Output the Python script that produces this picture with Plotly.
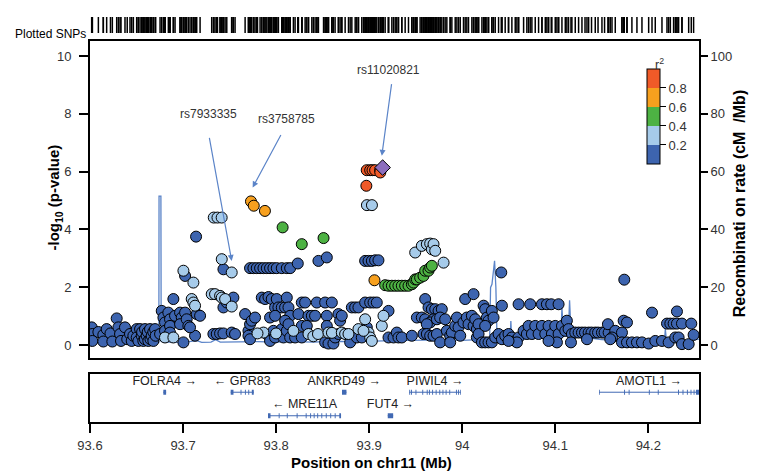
import plotly.graph_objects as go

# ---- SNP association data (position in Mb, -log10 p) grouped by LD class ----
blue_pos = [93.6018, 93.6025, 93.6025, 93.6090, 93.6143, 93.6143, 93.6179, 93.6220, 93.6240, 93.6287,
            93.6305, 93.6323, 93.6333, 93.6376, 93.6400, 93.6430, 93.6448, 93.6466, 93.6502, 93.6502,
            93.6520, 93.6538, 93.6556, 93.6560, 93.6573, 93.6590, 93.6591, 93.6609, 93.6620, 93.6627,
            93.6645, 93.6650, 93.6663, 93.6680, 93.6681, 93.6699, 93.6706,
            93.6753, 93.6771, 93.6789, 93.6806, 93.6806, 93.6842, 93.6860, 93.6860, 93.6860, 93.6896,
            93.6914, 93.6968, 93.6986, 93.6968, 93.7004, 93.7022, 93.7039, 93.7057, 93.7022, 93.7147,
            93.7183, 93.7129, 93.7075, 93.7140,
            93.7434, 93.7470, 93.7541, 93.7434, 93.7326, 93.7362, 93.7398, 93.7434, 93.7523, 93.7559, 93.7667,
            93.7720, 93.7756, 93.7792, 93.7828, 93.7864, 93.7900, 93.7935, 93.7971, 93.8007, 93.8061,
            93.8115, 93.8151, 93.8233, 93.7846, 93.7882, 93.7918, 93.7953, 93.7989, 93.8007, 93.8025,
            93.8061, 93.8097, 93.8115, 93.8133, 93.8151, 93.7935, 93.7989, 93.7703, 93.7720, 93.7738,
            93.7703, 93.7720, 93.7774, 93.7918, 93.7935, 93.7971, 93.7989, 93.8061, 93.8079, 93.8097,
            93.8115, 93.8133, 93.8151, 93.8204, 93.8240, 93.8276, 93.8276,
            93.8276, 93.8312, 93.8348, 93.8384, 93.8419, 93.8330, 93.8437, 93.8455, 93.8545, 93.8527,
            93.8599, 93.8545, 93.8545, 93.8599, 93.8527, 93.8563, 93.8616, 93.8634, 93.8670, 93.8688,
            93.8706, 93.8670, 93.8796, 93.8814, 93.8850, 93.8885,
            93.8957, 93.8993, 93.9029, 93.9064, 93.9100, 93.8957, 93.9011, 93.9047, 93.9082, 93.8975,
            93.8867, 93.8921, 93.9208, 93.9208, 93.9262, 93.9297, 93.9315, 93.9351, 93.9459, 93.9513,
            93.9602, 93.9566, 93.9602, 93.9638, 93.9674, 93.9710, 93.9746, 93.9781, 93.9692, 93.9656,
            93.9620, 93.9728, 93.9763, 93.9817, 93.9584, 93.9620, 93.9656, 93.9692, 93.9728, 93.9763,
            93.9835, 93.9871, 93.9889, 93.9871, 93.9925, 93.9943, 93.9961, 93.9979, 94.0014, 94.0032,
            94.0050, 94.0068, 94.0104, 94.0122, 94.0122, 94.0140, 94.0158, 94.0176, 94.0158, 94.0176,
            94.0230, 94.0247, 94.0265, 94.0283, 94.0247, 94.0319, 94.0337, 94.0212, 94.0247, 94.0283,
            94.0319, 94.0355, 94.0391, 94.0427, 94.0462, 94.0498, 94.0534, 94.0570, 94.0606, 94.0660,
            94.0695, 94.0713, 94.0749, 94.0785, 94.0821, 94.0857, 94.0893, 94.0928, 94.0964, 94.1000,
            94.1036, 94.1072, 94.1108, 94.1125, 94.1143, 94.1179, 94.1215, 94.1251, 94.1287, 94.1320,
            94.1359, 94.1390, 94.1430, 94.1460, 94.1502, 94.1530, 94.1574, 94.1566, 94.1645, 94.1610,
            94.1717, 94.1735, 94.1771, 94.1717, 94.1771, 94.1824, 94.1878, 94.1932, 94.2004, 94.2075,
            94.2147, 94.2219, 94.2290, 94.2326, 94.2362, 94.2434, 94.2487, 94.2201, 94.2237, 94.2272,
            94.2308, 94.2362, 94.2462, 94.2308, 94.2040, 94.0420, 94.1742, 94.0606, 94.0731, 94.0857,
            94.0910, 94.0957, 94.1036, 94.0427, 94.1169, 94.1341, 94.1591, 94.1018, 94.0928, 94.0588,
            94.0498]
blue_logp = [0.61, 0.38, 0.14, 0.45, 0.35, 0.12, 0.55, 0.40, 0.12, 0.92,
             0.61, 0.38, 0.14, 0.61, 0.20, 0.38, 0.14, 0.32, 0.55, 0.26,
             0.14, 0.55, 0.32, 0.45, 0.14, 0.20, 0.55, 0.32, 0.45, 0.14,
             0.55, 0.20, 0.32, 0.45, 0.14, 0.55, 0.32,
             0.38, 1.18, 0.95, 0.78, 0.49, 1.12, 0.89, 0.66, 0.43, 1.59,
             1.01, 1.12, 0.95, 0.72, 0.09, 1.12, 0.89, 0.66, 2.39, 1.07,
             1.01, 0.32, 0.61, 3.75,
             1.30, 1.47, 1.64, 2.62, 0.38, 0.38, 0.40, 0.40, 0.43, 0.38, 1.07,
             2.66, 2.66, 2.66, 2.66, 2.66, 2.66, 2.66, 2.66, 2.66, 2.66,
             2.66, 2.66, 2.82, 1.64, 1.59, 1.66, 1.59, 1.30, 1.59, 1.30,
             1.30, 1.30, 1.64, 1.30, 1.01, 0.95, 1.01, 0.49, 0.72, 0.84,
             0.32, 0.20, 0.95, 0.32, 0.14, 0.49, 0.26, 0.55, 0.26, 0.84,
             0.49, 0.72, 0.26, 0.26, 1.07, 0.66, 0.26,
             1.47, 1.47, 1.01, 1.01, 1.01, 0.66, 1.47, 2.91, 3.03, 1.47,
             1.47, 1.01, 0.66, 0.26, 0.09, 0.05, 0.05, 0.26, 1.07, 0.84,
             1.01, 0.38, 0.09, 1.30, 1.30, 1.30,
             2.91, 2.91, 2.91, 2.93, 2.93, 1.47, 1.47, 1.47, 1.47, 0.61,
             0.26, 0.26, 1.18, 0.26, 0.26, 0.43, 0.26, 0.26, 0.32, 0.95,
             1.59, 0.95, 0.89, 1.30, 1.24, 1.24, 1.18, 1.24, 0.89, 0.78,
             0.72, 0.89, 0.95, 0.89, 0.38, 0.38, 0.32, 0.32, 0.38, 0.09,
             0.49, 0.32, 0.43, 0.09, 0.66, 0.95, 0.61, 0.32, 0.78, 1.59,
             0.95, 0.72, 1.01, 1.76, 0.66, 0.89, 0.55, 0.72, 0.26, 0.38,
             1.36, 1.24, 0.95, 0.84, 0.66, 1.18, 0.95, 0.09, 0.09, 0.09,
             0.09, 0.26, 0.38, 0.20, 0.32, 0.38, 0.26, 0.14, 0.26, 0.49,
             0.38, 0.66, 0.38, 0.66, 0.38, 0.66, 0.38, 0.66, 0.38, 0.66,
             0.38, 0.66, 0.49, 0.84, 0.55, 0.38, 0.43, 0.43, 0.43, 0.43,
             0.43, 0.43, 0.43, 0.43, 0.43, 0.43, 0.43, 0.72, 0.49, 0.26,
             0.43, 0.84, 0.78, 0.09, 0.09, 0.09, 0.09, 0.09, 0.05, 0.14,
             0.14, 0.09, 0.26, 0.26, 0.03, 0.03, 0.35, 0.74, 0.74, 0.74,
             0.74, 0.74, 0.74, 1.16, 1.12, 2.51, 2.26, 1.41, 1.41, 1.41,
             1.41, 1.41, 1.41, 1.36, 0.09, 0.20, 0.20, 0.09, 0.14, 0.09,
             0.14]

lightblue_pos = [93.6806, 93.6896, 93.7004, 93.7111, 93.7093, 93.7111, 93.7129, 93.7308, 93.7344, 93.7398,
                 93.7416, 93.7452, 93.7523, 93.7416, 93.7523, 93.7330, 93.7370, 93.7415, 93.7864, 93.8186,
                 93.7800, 93.8000, 93.8348, 93.8400, 93.8450, 93.8563, 93.8600, 93.8706, 93.8742, 93.8778,
                 93.8957, 93.8993, 93.9011, 93.9029, 93.8885, 93.8939, 93.9136, 93.9154, 93.8976, 93.9030,
                 93.9495, 93.9566, 93.9620, 93.9656, 93.9674, 93.9692, 93.9710, 93.9800]
lightblue_logp = [0.26, 0.26, 2.57, 2.16, 1.59, 1.47, 1.36, 1.76, 1.76, 1.70,
                  1.64, 1.59, 1.33, 2.97, 2.51, 4.41, 4.41, 4.41, 0.43, 0.49,
                  0.40, 0.40, 0.38, 0.30, 0.38, 0.43, 0.42, 0.43, 0.38, 0.38,
                  0.89, 0.43, 0.26, 0.14, 0.55, 0.49, 0.66, 1.01, 4.84, 4.84,
                  3.20, 3.43, 3.49, 3.51, 3.31, 3.49, 3.26, 2.85]

green_pos = [93.8070, 93.8276, 93.8510, 93.9172, 93.9208, 93.9244, 93.9280, 93.9315, 93.9351, 93.9387,
             93.9423, 93.9459, 93.9477, 93.9495, 93.9513, 93.9548, 93.9584, 93.9602, 93.9638, 93.9656,
             93.9674]
green_logp = [4.07, 3.49, 3.70, 2.07, 2.05, 2.05, 2.05, 2.05, 2.05, 2.05,
              2.05, 2.10, 2.16, 2.27, 2.27, 2.33, 2.39, 2.57, 2.57, 2.68,
              2.74]

orange_pos = [93.7730, 93.7760, 93.7880, 93.9057]
orange_logp = [4.97, 4.82, 4.64, 2.24]

red_pos = [93.8974, 93.9011, 93.9036, 93.9064, 93.9118, 93.9120, 93.8970]
red_logp = [6.05, 6.05, 6.05, 6.05, 6.05, 5.97, 5.51]

# approximate r2 of each LD class
class_r2 = {"blue": 0.1, "lightblue": 0.3, "green": 0.5, "orange": 0.7, "red": 0.9}

lead_pos = [93.9145]
lead_logp = [6.14]
lead_name = "rs11020821"

# ---- recombination rate (cM/Mb) ----
rec_pos = [93.600, 93.620, 93.640, 93.660, 93.6740, 93.6742, 93.6762, 93.6765, 93.680, 93.700,
           93.7150, 93.7200, 93.7300, 93.7350, 93.7400, 93.760, 93.780, 93.800, 93.820, 93.840,
           93.860, 93.880, 93.900, 93.920, 93.940, 93.960, 93.980, 94.000, 94.020, 94.0295,
           94.0305, 94.0320, 94.0348, 94.0362, 94.0373, 94.0391, 94.046, 94.0515, 94.0523, 94.0532,
           94.060, 94.080, 94.100, 94.1060, 94.1072, 94.1090, 94.1140, 94.1154, 94.1170, 94.130,
           94.150, 94.170, 94.190, 94.210, 94.2175, 94.2183, 94.2195, 94.235, 94.2545]
rec_rate = [0.8, 0.9, 0.8, 0.9, 1.0, 51.5, 51.5, 1.2, 1.0, 0.9,
            1.5, 0.9, 1.0, 1.8, 1.0, 1.1, 1.2, 1.0, 1.2, 1.0,
            1.3, 1.2, 1.4, 1.5, 1.6, 1.7, 1.8, 1.6, 2.0, 2.0,
            19.9, 21.0, 29.1, 19.9, 4.3, 1.6, 1.5, 1.5, 8.3, 1.6,
            2.0, 2.4, 2.6, 2.6, 12.9, 3.0, 3.2, 15.5, 3.7, 2.6,
            1.9, 1.5, 1.2, 1.2, 1.5, 5.5, 1.5, 1.2, 2.0]

# ---- genes ----
gene_name = ["FOLRA4", "GPR83", "ANKRD49", "PIWIL4", "AMOTL1", "MRE11A", "FUT4"]
gene_start = [93.6788, 93.7512, 93.8708, 93.9431, 94.1471, 93.7913, 93.9200]
gene_end = [93.6818, 93.7760, 93.8756, 93.9986, 94.2545, 93.8698, 93.9258]
gene_strand = ["+", "-", "+", "+", "+", "-", "+"]
gene_row = [1, 1, 1, 1, 1, 2, 2]
gene_exons = [
    [(93.6788, 93.6818)],
    [(93.7512, 93.7542), (93.7618, 93.7628), (93.7665, 93.7675), (93.7701, 93.7711), (93.7739, 93.7760)],
    [(93.8708, 93.8756)],
    [(93.9431, 93.9441), (93.9450, 93.9460), (93.9498, 93.9508), (93.9571, 93.9581), (93.9619, 93.9629),
     (93.9643, 93.9653), (93.9677, 93.9687), (93.9715, 93.9725), (93.9754, 93.9764), (93.9788, 93.9798),
     (93.9822, 93.9832), (93.9861, 93.9871), (93.9933, 93.9943), (93.9956, 93.9966), (93.9978, 93.9986)],
    [(94.1471, 94.1479), (94.1740, 94.1750), (94.1789, 94.1799), (94.2006, 94.2016), (94.2102, 94.2112),
     (94.2320, 94.2330), (94.2368, 94.2378), (94.2415, 94.2425), (94.2454, 94.2464), (94.2487, 94.2497),
     (94.2512, 94.2545)],
    [(93.7913, 93.7940), (93.8028, 93.8038), (93.8115, 93.8125), (93.8221, 93.8231), (93.8318, 93.8328),
     (93.8366, 93.8376), (93.8404, 93.8414), (93.8442, 93.8452), (93.8486, 93.8496), (93.8534, 93.8544),
     (93.8582, 93.8592), (93.8630, 93.8640), (93.8679, 93.8698)],
    [(93.9200, 93.9258)],
]

x_ticks = [93.6, 93.7, 93.8, 93.9, 94.0, 94.1, 94.2]
x_ticktext = ["93.6", "93.7", "93.8", "93.9", "94", "94.1", "94.2"]
x_range = [93.6, 94.2545]

# colours
c_blue = "#3D64AF"
c_lblue = "#A6CBEA"
c_green = "#4DB243"
c_orange = "#F7A01E"
c_red = "#F05A28"
c_lead = "#8C6EBE"
c_line = "#5B84C8"
c_gene = "#4169B3"
font = "Arial, 'Liberation Sans', sans-serif"

all_pos = blue_pos + lightblue_pos + green_pos + orange_pos + red_pos
all_logp = blue_logp + lightblue_logp + green_logp + orange_logp + red_logp
all_r2 = ([class_r2["blue"]] * len(blue_pos) + [class_r2["lightblue"]] * len(lightblue_pos)
          + [class_r2["green"]] * len(green_pos) + [class_r2["orange"]] * len(orange_pos)
          + [class_r2["red"]] * len(red_pos))

cscale = [[0, c_blue], [0.2, c_blue], [0.2, c_lblue], [0.4, c_lblue], [0.4, c_green],
          [0.6, c_green], [0.6, c_orange], [0.8, c_orange], [0.8, c_red], [1, c_red]]

fig = go.Figure()

# recombination line (base axis, drawn under points)
fig.add_trace(go.Scatter(x=rec_pos, y=rec_rate, mode="lines", xaxis="x", yaxis="y",
                         line=dict(color=c_line, width=1.3), hoverinfo="skip", showlegend=False))

fig.add_trace(go.Scatter(
    x=all_pos, y=all_logp, mode="markers", xaxis="x", yaxis="y2", showlegend=False,
    marker=dict(size=11, color=all_r2, colorscale=cscale, cmin=0, cmax=1,
                line=dict(color="black", width=1),
                colorbar=dict(x=0.9146, xanchor="left", y=0.747, yanchor="middle",
                              len=95, lenmode="pixels", thickness=13, outlinewidth=1,
                              outlinecolor="black", tickvals=[0.2, 0.4, 0.6, 0.8],
                              ticks="outside", ticklen=6, tickcolor="black",
                              tickfont=dict(size=13, color="#333", family=font),
                              xpad=0, ypad=0)),
))

fig.add_trace(go.Scatter(x=lead_pos, y=lead_logp, mode="markers", xaxis="x", yaxis="y2",
                         showlegend=False,
                         marker=dict(symbol="diamond", size=12, color=c_lead,
                                     line=dict(color="black", width=1))))

# gene track
row_y = {1: 0.62, 2: 0.13}
intr_x, intr_y, ex_x, ex_y = [], [], [], []
lab_x, lab_y, lab_t = [], [], []
for i, name in enumerate(gene_name):
    y = row_y[gene_row[i]]
    intr_x += [gene_start[i], gene_end[i], None]
    intr_y += [y, y, None]
    for s, e in gene_exons[i]:
        ex_x += [s, e, None]
        ex_y += [y, y, None]
    lab_x.append((gene_start[i] + gene_end[i]) / 2)
    lab_y.append(y + 0.22)
    lab_t.append(name + " \u2192" if gene_strand[i] == "+" else "\u2190 " + name)

fig.add_trace(go.Scatter(x=intr_x, y=intr_y, mode="lines", xaxis="x2", yaxis="y3",
                         line=dict(color=c_gene, width=1), showlegend=False, hoverinfo="skip"))
fig.add_trace(go.Scatter(x=ex_x, y=ex_y, mode="lines", xaxis="x2", yaxis="y3",
                         line=dict(color=c_gene, width=5), showlegend=False, hoverinfo="skip"))
fig.add_trace(go.Scatter(x=lab_x, y=lab_y, mode="text", text=lab_t, xaxis="x2", yaxis="y3",
                         textfont=dict(size=12.5, color="#222", family=font), showlegend=False,
                         hoverinfo="skip"))

# plotted SNPs rug
fig.add_trace(go.Scatter(x=all_pos + lead_pos, y=[0.5] * (len(all_pos) + 1), mode="markers",
                         xaxis="x3", yaxis="y4", showlegend=False, hoverinfo="skip",
                         marker=dict(symbol="line-ns", size=16, line=dict(color="black", width=1.5))))

axis_font = dict(size=13, color="#333", family=font)
fig.update_layout(
    width=762, height=476,
    margin=dict(l=82, r=71, t=5, b=62),
    paper_bgcolor="white", plot_bgcolor="white",
    font=dict(family=font),
    xaxis=dict(domain=[0, 1], range=x_range, anchor="y", showline=True, mirror=True,
               linewidth=2, linecolor="black", showticklabels=False, ticks="",
               showgrid=False, zeroline=False),
    yaxis=dict(domain=[0.1565, 0.9315], range=[-4.5, 105.2], side="right", anchor="x",
               showline=True, mirror=True, linewidth=2, linecolor="black",
               ticks="outside", ticklen=7, tickwidth=1.5, tickcolor="black",
               tickvals=[0, 20, 40, 60, 80, 100], tickfont=axis_font,
               showgrid=False, zeroline=False),
    yaxis2=dict(overlaying="y", side="left", anchor="x", range=[-0.45, 10.52],
                ticks="outside", ticklen=10, tickwidth=1.5, tickcolor="black",
                tickvals=[0, 2, 4, 6, 8, 10], tickfont=axis_font, ticklabelstandoff=5,
                showgrid=False, zeroline=False, showline=False),
    xaxis2=dict(domain=[0, 1], range=x_range, anchor="y3", showline=True, mirror=True,
                linewidth=1.5, linecolor="black", ticks="outside", ticklen=9, tickwidth=1.5,
                tickcolor="black", tickvals=x_ticks, ticktext=x_ticktext, tickfont=axis_font,
                ticklabelstandoff=2, showgrid=False, zeroline=False),
    yaxis3=dict(domain=[0, 0.1174], range=[0, 1], anchor="x2", showline=True, mirror=True,
                linewidth=1.5, linecolor="black", ticks="", showticklabels=False,
                showgrid=False, zeroline=False),
    xaxis3=dict(domain=[0, 1], range=x_range, anchor="y4", visible=False),
    yaxis4=dict(domain=[0.951, 0.99], range=[0, 1], anchor="x3", visible=False),
)

annotations = [
    dict(text="<b>-log<sub>10</sub> (p-value)</b>", xref="paper", yref="paper", x=-0.0772, y=0.55,
         textangle=-90, showarrow=False, font=dict(size=15, color="black", family=font)),
    dict(text="<b>Recombinati on rate (cM  /Mb)</b>", xref="paper", yref="paper", x=1.0832, y=0.535,
         textangle=-90, showarrow=False, font=dict(size=16, color="black", family=font)),
    dict(text="<b>Position on chr11 (Mb)</b>", xref="paper", yref="paper", x=0.463, y=-0.124,
         showarrow=False, font=dict(size=15, color="black", family=font)),
    dict(text="Plotted SNPs", xref="paper", yref="paper", x=-0.126, xanchor="left", y=0.9707,
         showarrow=False, font=dict(size=12, color="black", family=font)),
    dict(text="r<sup>2</sup>", xref="paper", yref="paper", x=0.9458, y=0.9,
         showarrow=False, font=dict(size=12.5, color="#333", family=font)),
]

# labelled SNPs: (name, text x, text y, arrow tail x, tail y, head x, head y)
snp_labels = [
    ("rs7933335", 93.7272, 8.01, 93.7280, 7.22, 93.7523, 2.91),
    ("rs3758785", 93.8111, 7.83, 93.8060, 7.32, 93.7748, 5.45),
    (lead_name, 93.9208, 9.50, 93.9243, 9.08, 93.9136, 6.55),
]
for name, tx, ty, ax, ay, hx, hy in snp_labels:
    annotations.append(dict(text=name, x=tx, y=ty, xref="x", yref="y2", showarrow=False,
                            font=dict(size=12, color="#333", family=font)))
    annotations.append(dict(text="", x=hx, y=hy, ax=ax, ay=ay, xref="x", yref="y2",
                            axref="x", ayref="y2", showarrow=True, arrowhead=2, arrowsize=1,
                            arrowwidth=1.2, arrowcolor=c_line))

fig.update_layout(annotations=annotations)

fig.write_html("out.html")
